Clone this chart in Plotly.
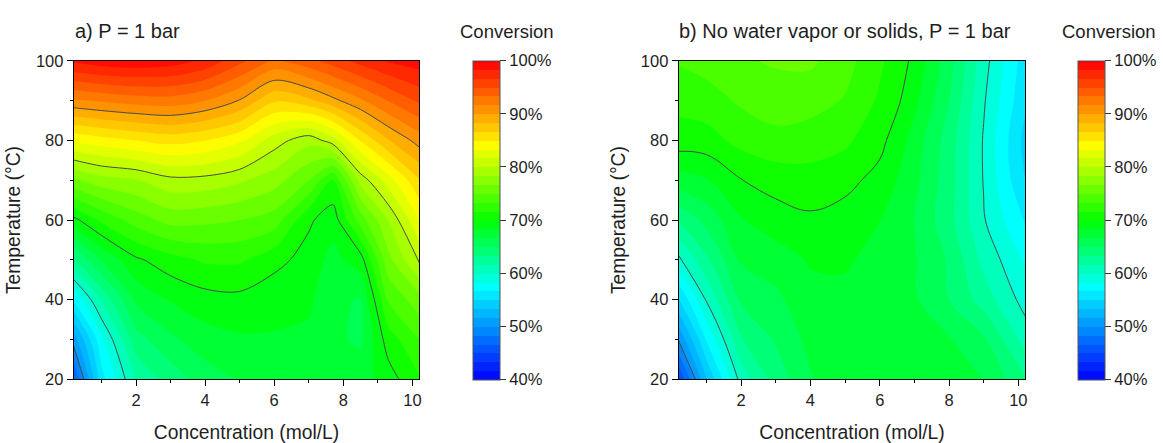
import plotly.graph_objects as go

# ---------------- data ----------------
CONC_A = [0.2, 1, 2, 3, 4, 5, 6, 7, 7.7, 8.5, 9.3, 10.2]
CONC_B = [0.2, 1, 2, 3, 4, 5, 6, 6.5, 7, 8, 9, 10.2]
TEMP = [20, 30, 40, 50, 60, 70, 80, 90, 100]

# conversion (%) ; one row per temperature, one column per concentration
CONV_A = [
    [46.5, 56.0, 61.8, 64.0, 65.8, 66.8, 67.5, 67.7, 67.3, 67.6, 69.2, 71.5],
    [50.8, 58.0, 64.3, 66.3, 67.6, 68.1, 68.2, 68.0, 67.0, 66.4, 70.8, 73.3],
    [56.9, 61.9, 67.0, 68.5, 69.3, 69.5, 68.8, 68.6, 67.2, 66.5, 73.5, 76.0],
    [63.1, 66.8, 69.7, 71.0, 71.9, 71.9, 70.6, 69.3, 67.8, 69.2, 76.1, 80.3],
    [69.5, 72.0, 74.1, 75.6, 75.4, 75.0, 74.2, 70.3, 69.0, 74.1, 78.4, 83.3],
    [76.3, 77.6, 78.2, 79.5, 79.4, 78.6, 77.4, 75.0, 71.6, 79.0, 82.5, 86.5],
    [83.6, 84.3, 85.0, 85.6, 85.0, 83.7, 80.8, 78.9, 80.9, 85.1, 88.2, 90.7],
    [91.4, 91.9, 92.4, 92.6, 91.7, 89.9, 86.9, 87.9, 89.5, 91.4, 93.4, 95.3],
    [98.7, 99.3, 99.6, 99.2, 98.0, 95.5, 93.0, 94.5, 95.8, 97.3, 98.5, 99.2],
]

CONV_B = [
    [45.0, 53.3, 60.7, 64.0, 66.5, 67.8, 68.2, 68.1, 68.0, 67.6, 66.6, 63.5],
    [50.2, 56.8, 63.2, 65.2, 67.2, 67.9, 68.0, 67.9, 67.8, 66.8, 65.3, 61.0],
    [54.9, 60.2, 65.3, 66.3, 67.8, 68.0, 67.9, 67.5, 66.9, 65.0, 62.6, 59.3],
    [59.6, 63.0, 66.9, 67.5, 68.5, 68.5, 67.9, 67.4, 66.8, 64.8, 61.2, 58.2],
    [63.5, 65.6, 68.2, 69.2, 69.7, 69.3, 68.35, 67.6, 66.6, 63.9, 60.15, 56.5],
    [67.6, 68.2, 69.95, 70.7, 71.0, 70.5, 69.45, 68.3, 67.1, 64.1, 59.9, 55.0],
    [70.9, 71.0, 72.2, 72.8, 72.5, 72.0, 70.5, 69.2, 67.6, 64.2, 59.85, 54.5],
    [72.2, 72.6, 73.6, 74.2, 74.0, 73.2, 71.4, 70.3, 68.8, 65.0, 60.2, 55.3],
    [73.5, 74.0, 74.8, 75.2, 75.3, 74.0, 72.0, 70.8, 69.6, 65.7, 60.7, 55.8],
]

CB_TICKS = [40, 50, 60, 70, 80, 90, 100]
CB_LABELS = ["40%", "50%", "60%", "70%", "80%", "90%", "100%"]
X_TICKS = [2, 4, 6, 8, 10]
Y_TICKS = [20, 40, 60, 80, 100]

TITLE_A = "a) P = 1 bar"
TITLE_B = "b) No water vapor or solids, P = 1 bar"
CB_TITLE = "Conversion"
X_TITLE = "Concentration (mol/L)"
Y_TITLE = "Temperature (°C)"

# ---------------- styling ----------------
W, H = 1163, 443
FONT = "Arial, Liberation Sans, sans-serif"
TXT = "#1e1e1e"
ZMIN, ZMAX = 40, 100
NBANDS = 36
SMOOTH_A = 0.9
SMOOTH_B = 1.1

COLORSCALE = [
    [0.0, "rgb(0,0,255)"],
    [0.2917, "rgb(0,255,255)"],
    [0.5, "rgb(0,255,0)"],
    [0.7333, "rgb(255,255,0)"],
    [1.0, "rgb(255,0,0)"],
]

# pixel layout
PLOT_TOP, PLOT_BOT = 54, 386
A_L, A_R = 74, 420
B_L, B_R = 680, 1027
CB_A_L, CB_B_L = 474, 1080
CB_W = 27


def px_x(p):
    return p / W


def px_y(p):
    return (H - p) / H


def colorbar(xleft):
    return dict(
        x=px_x(xleft), xanchor="left", xpad=0,
        y=px_y((PLOT_TOP + PLOT_BOT) / 2), yanchor="middle", ypad=0,
        len=(PLOT_BOT - PLOT_TOP) / H, lenmode="fraction",
        thickness=CB_W, thicknessmode="pixels",
        outlinewidth=1, outlinecolor="#555555",
        tickmode="array", tickvals=CB_TICKS, ticktext=CB_LABELS,
        ticks="outside", ticklen=6, tickwidth=1, tickcolor="#333333",
        tickfont=dict(family=FONT, size=16.5, color=TXT),
    )


def fill_trace(x, z, xa, ya, cbx, smooth):
    return go.Contour(
        x=x, y=TEMP, z=z, xaxis=xa, yaxis=ya,
        colorscale=COLORSCALE, zmin=ZMIN, zmax=ZMAX, zauto=False,
        autocontour=False,
        contours=dict(start=ZMIN, end=ZMAX, size=(ZMAX - ZMIN) / NBANDS,
                      coloring="fill", showlines=False),
        line=dict(width=0, smoothing=smooth),
        colorbar=colorbar(cbx), hoverinfo="skip",
    )


def line_trace(x, z, xa, ya, smooth):
    return go.Contour(
        x=x, y=TEMP, z=z, xaxis=xa, yaxis=ya,
        autocontour=False,
        contours=dict(start=50, end=90, size=10, coloring="none"),
        line=dict(color="#4a4a4a", width=1, smoothing=smooth),
        showscale=False, hoverinfo="skip",
    )


fig = go.Figure()
fig.add_trace(fill_trace(CONC_A, CONV_A, "x", "y", CB_A_L, SMOOTH_A))
fig.add_trace(line_trace(CONC_A, CONV_A, "x", "y", SMOOTH_A))
fig.add_trace(fill_trace(CONC_B, CONV_B, "x2", "y2", CB_B_L, SMOOTH_B))
fig.add_trace(line_trace(CONC_B, CONV_B, "x2", "y2", SMOOTH_B))

xcommon = dict(
    range=[0.2, 10.2], tickmode="array", tickvals=X_TICKS,
    ticks="outside", ticklen=6, tickwidth=1, tickcolor="#000",
    minor=dict(ticks="outside", ticklen=3, tickwidth=1, tickcolor="#000", dtick=1, tick0=0),
    showline=True, linecolor="#000", linewidth=1.3, mirror=True,
    showgrid=False, zeroline=False,
    tickfont=dict(family=FONT, size=16.5, color=TXT),
    title=dict(text=X_TITLE, font=dict(family=FONT, size=19.3, color=TXT), standoff=18),
)
ycommon = dict(
    range=[20, 100], tickmode="array", tickvals=Y_TICKS,
    ticks="outside", ticklen=6, tickwidth=1, tickcolor="#000",
    minor=dict(ticks="outside", ticklen=3, tickwidth=1, tickcolor="#000", dtick=10, tick0=0),
    showline=True, linecolor="#000", linewidth=1.3, mirror=True,
    showgrid=False, zeroline=False,
    tickfont=dict(family=FONT, size=16.5, color=TXT),
    title=dict(text=Y_TITLE, font=dict(family=FONT, size=19.3, color=TXT), standoff=10),
    domain=[px_y(PLOT_BOT), px_y(PLOT_TOP)],
)

fig.update_layout(
    width=W, height=H,
    margin=dict(l=0, r=0, t=0, b=0),
    paper_bgcolor="white", plot_bgcolor="white",
    showlegend=False,
    xaxis=dict(xcommon, domain=[px_x(A_L), px_x(A_R)], anchor="y"),
    yaxis=dict(ycommon, anchor="x"),
    xaxis2=dict(xcommon, domain=[px_x(B_L), px_x(B_R)], anchor="y2"),
    yaxis2=dict(ycommon, anchor="x2"),
    annotations=[
        dict(text=TITLE_A, x=px_x(73), y=px_y(23), xref="paper", yref="paper",
             xanchor="left", yanchor="middle", showarrow=False,
             font=dict(family=FONT, size=20, color=TXT)),
        dict(text=TITLE_B, x=px_x(678), y=px_y(23), xref="paper", yref="paper",
             xanchor="left", yanchor="middle", showarrow=False,
             font=dict(family=FONT, size=20, color=TXT)),
        dict(text=CB_TITLE, x=px_x(508), y=px_y(23), xref="paper", yref="paper",
             xanchor="center", yanchor="middle", showarrow=False,
             font=dict(family=FONT, size=18.5, color=TXT)),
        dict(text=CB_TITLE, x=px_x(1111), y=px_y(23), xref="paper", yref="paper",
             xanchor="center", yanchor="middle", showarrow=False,
             font=dict(family=FONT, size=18.5, color=TXT)),
    ],
)

fig.write_html("out.html")
